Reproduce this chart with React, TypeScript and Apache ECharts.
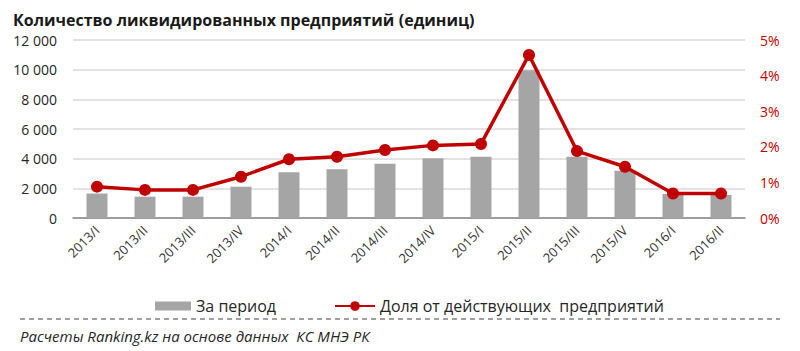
import React, { useEffect, useRef } from "react";
import * as echarts from "echarts";

const categories = ["2013/I", "2013/II", "2013/III", "2013/IV", "2014/I", "2014/II", "2014/III", "2014/IV", "2015/I", "2015/II", "2015/III", "2015/IV", "2016/I", "2016/II"];
const periodValues = [1650, 1440, 1440, 2110, 3080, 3280, 3660, 4030, 4130, 9960, 4130, 3190, 1620, 1550];
const shareValues = [0.88, 0.79, 0.79, 1.16, 1.65, 1.72, 1.91, 2.04, 2.08, 4.58, 1.88, 1.44, 0.69, 0.69];
const leftTicks = { min: 0, max: 12000, interval: 2000 };
const rightTicks = { min: 0, max: 5, interval: 1 };

const FONT = "'Open Sans', sans-serif";
const BAR_NAME = "За период";
const LINE_NAME = "Доля от действующих  предприятий";

export default function App() {
  const ref = useRef<HTMLDivElement>(null);
  useEffect(() => {
    if (!ref.current) return;
    const chart = echarts.init(ref.current, undefined, { renderer: "svg" });
    const legendText = { fontFamily: FONT, fontSize: 16, color: "#262626" };
    chart.setOption({
      animation: false,
      backgroundColor: "#ffffff",
      textStyle: { fontFamily: FONT },
      title: {
        left: 8,
        top: 6,
        text: "{b|Количество ликвидированных предприятий} {n|(единиц)}",
        textStyle: {
          rich: {
            b: { fontFamily: FONT, fontSize: 16, fontWeight: "bold", color: "#1a1a1a" },
            n: { fontFamily: FONT, fontSize: 16, color: "#1a1a1a" },
          },
        },
      },
      grid: { left: 73, right: 55, top: 40, bottom: 133 },
      legend: [
        {
          left: 150,
          top: 293,
          itemWidth: 36,
          itemHeight: 9,
          textStyle: legendText,
          data: [{ name: BAR_NAME, icon: "rect" }],
        },
        {
          left: 329,
          top: 293,
          itemWidth: 40,
          itemHeight: 12,
          textStyle: legendText,
          data: [{ name: LINE_NAME }],
        },
      ],
      xAxis: {
        type: "category",
        data: categories,
        axisLine: { lineStyle: { color: "#868686", width: 1.5 } },
        axisTick: { show: false },
        axisLabel: { rotate: 45, fontFamily: FONT, fontSize: 13, color: "#333333", margin: 10 },
      },
      yAxis: [
        {
          type: "value",
          ...leftTicks,
          axisLabel: {
            fontFamily: FONT,
            fontSize: 14,
            color: "#262626",
            margin: 16,
            formatter: (v: number) => (v >= 1000 ? `${Math.floor(v / 1000)} ${String(v % 1000).padStart(3, "0")}` : `${v}`),
          },
          splitLine: { lineStyle: { color: "#d9d9d9", width: 1.5 } },
          axisLine: { show: false },
          axisTick: { show: false },
        },
        {
          type: "value",
          ...rightTicks,
          position: "right",
          axisLabel: { fontFamily: FONT, fontSize: 14, color: "#c00000", margin: 15, formatter: "{value}%" },
          splitLine: { show: false },
          axisLine: { show: false },
          axisTick: { show: false },
        },
      ],
      series: [
        {
          name: BAR_NAME,
          type: "bar",
          data: periodValues,
          barWidth: 21,
          itemStyle: { color: "#a5a5a5" },
        },
        {
          name: LINE_NAME,
          type: "line",
          yAxisIndex: 1,
          data: shareValues,
          symbol: "circle",
          symbolSize: 12,
          lineStyle: { color: "#c00000", width: 3.5 },
          itemStyle: { color: "#c00000" },
        },
      ],
      graphic: [
        {
          type: "line",
          shape: { x1: 20, y1: 319, x2: 780, y2: 319 },
          style: { stroke: "#404040", lineWidth: 1.2, lineDash: [5, 4] },
        },
        {
          type: "text",
          left: 20,
          top: 328,
          style: {
            text: "Расчеты Ranking.kz на основе данных  КС МНЭ РК",
            fontFamily: FONT,
            fontSize: 15,
            fontStyle: "italic",
            fill: "#262626",
          },
        },
      ],
    });
    return () => chart.dispose();
  }, []);
  return <div ref={ref} style={{ width: 800, height: 351, position: "absolute", left: 0, top: 0 }} />;
}
